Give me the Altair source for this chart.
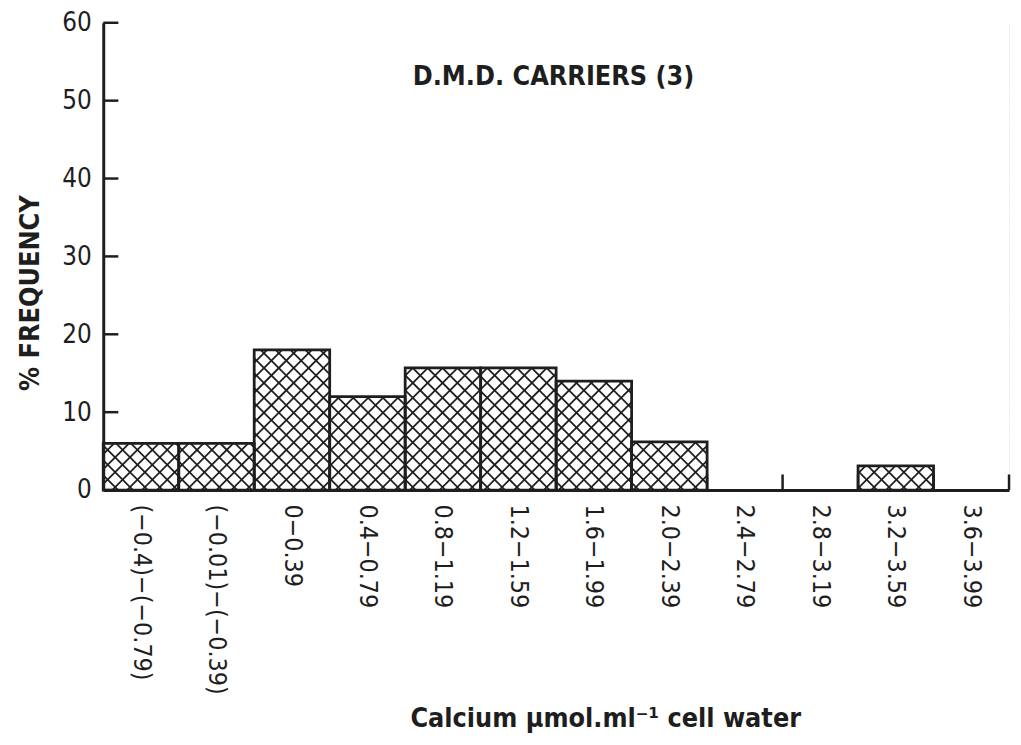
import json
import altair as alt
import pandas as pd

# ---- data ----
categories = ["(\u22120.4)\u2212(\u22120.79)", "(\u22120.01)\u2212(\u22120.39)", "0\u22120.39", "0.4\u22120.79",
              "0.8\u22121.19", "1.2\u22121.59", "1.6\u22121.99", "2.0\u22122.39", "2.4\u22122.79",
              "2.8\u22123.19", "3.2\u22123.59", "3.6\u22123.99"]
frequency = [6.0, 6.0, 18.0, 12.0, 15.7, 15.7, 14.0, 6.2, 0.0, 0.0, 3.1, 0.0]
y_ticks = [0, 10, 20, 30, 40, 50, 60]
bin_edges = list(range(len(categories) + 1))

W, H = 913, 471
NB = len(categories)
FONT = "'Liberation Sans Narrow', 'DejaVu Sans Condensed', 'Roboto', sans-serif"
INK = "#1e1e1e"

df = pd.DataFrame({"cat": categories, "freq": frequency})
df["lo"] = range(NB)
df["hi"] = df["lo"] + 1

xs = alt.Scale(domain=[0, NB], nice=False, zero=False)
ys = alt.Scale(domain=[0, 60], nice=False, zero=False)

label_expr = json.dumps(categories) + "[floor(datum.value)]"

x_axis = alt.Axis(values=[i + 0.5 for i in range(NB)], labelExpr=label_expr, labelAngle=90,
                  labelAlign="left", labelBaseline="middle", labelPadding=14, ticks=False,
                  labelFont=FONT, labelFontSize=25, labelColor=INK, labelOverlap=False,
                  labelLimit=0, domainColor=INK, domainWidth=3, grid=False, zindex=1,
                  title="Calcium \u00b5mol.ml\u207b\u00b9 cell water", titleFont=FONT,
                  titleFontSize=27, titleFontWeight="bold", titleColor=INK,
                  titleX=506, titleY=238, titleAlign="center", titleBaseline="alphabetic")
y_axis = alt.Axis(values=y_ticks, ticks=False, labelPadding=12, labelFont=FONT,
                  labelFontSize=26, labelColor=INK, domainColor=INK, domainWidth=3,
                  grid=False, zindex=1, title="% FREQUENCY", titleFont=FONT,
                  titleFontSize=27, titleFontWeight="bold", titleColor=INK,
                  titleX=-73, titleY=272, titleAngle=-90, titleAlign="center",
                  titleBaseline="middle")

# hatch lines in data units that are 45 degrees in pixels
run = 60 * (H / 60) / (W / NB)      # bins travelled over the full height
step = 15 * NB / W                  # ~15 px spacing
hatch_base = alt.Chart(alt.sequence(-run - step, NB + step, step, as_="s"))

hatch_a = hatch_base.transform_calculate(x1="datum.s", x2=f"datum.s + {run}", y1="0", y2="60").mark_rule(
    clip=True, color=INK, strokeWidth=1.8).encode(
    x=alt.X("x1:Q", scale=xs, axis=x_axis), x2="x2:Q",
    y=alt.Y("y1:Q", scale=ys, axis=y_axis), y2="y2:Q")
hatch_b = hatch_base.transform_calculate(x1="datum.s", x2=f"datum.s + {run}", y1="60", y2="0").mark_rule(
    clip=True, color=INK, strokeWidth=1.8).encode(
    x=alt.X("x1:Q", scale=xs), x2="x2:Q",
    y=alt.Y("y1:Q", scale=ys), y2="y2:Q")

base = alt.Chart(df)
mask = base.mark_rect(color="white", stroke="white", strokeWidth=1.2).encode(
    x=alt.X("lo:Q", scale=xs), x2="hi:Q",
    y=alt.Y("freq:Q", scale=ys), y2=alt.datum(60))
outline = base.transform_filter("datum.freq > 0").mark_rect(
    filled=False, stroke=INK, strokeWidth=2.8).encode(
    x=alt.X("lo:Q", scale=xs), x2="hi:Q",
    y=alt.Y("freq:Q", scale=ys), y2=alt.datum(0))

edge_ticks = alt.Chart(pd.DataFrame({"e": bin_edges})).mark_rule(color=INK, strokeWidth=2.5).encode(
    x=alt.X("e:Q", scale=xs), y=alt.datum(0), y2=alt.datum(2.0))
ytick_marks = alt.Chart(pd.DataFrame({"t": y_ticks})).mark_rule(color=INK, strokeWidth=2.5).encode(
    y=alt.Y("t:Q", scale=ys), x=alt.datum(0), x2=alt.datum(0.2))

title = alt.Chart(pd.DataFrame({"t": ["D.M.D. CARRIERS (3)"]})).mark_text(
    font=FONT, fontSize=27, fontWeight="bold", color=INK, align="left", baseline="middle").encode(
    x=alt.datum(4.1), y=alt.datum(53.0), text="t:N")

chart = alt.layer(hatch_a, hatch_b, mask, outline, edge_ticks, ytick_marks, title).properties(
    width=W, height=H, autosize="none",
    padding={"left": 96, "top": 12, "right": 4, "bottom": 244},
).configure_view(stroke=None).configure(background="white")

chart.save("out.html", embed_options={"renderer": "svg", "actions": False})
